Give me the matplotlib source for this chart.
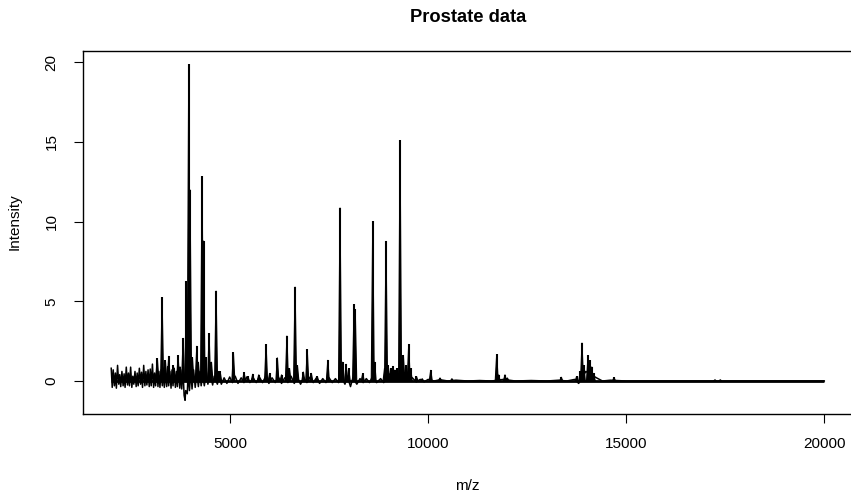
import numpy as np
import matplotlib
matplotlib.use("Agg")
import matplotlib.pyplot as plt

plt.rcParams['font.family'] = ['Liberation Sans', 'DejaVu Sans']

# ---- data ----
peak_mz = [3165, 3284, 3367, 3452, 3560, 3688, 3740, 3815, 3897, 3957,
           3990, 4050, 4160, 4200, 4293, 4330, 4380, 4470, 4530, 4647,
           4700, 4749, 5084, 5353, 5450, 5573, 5725, 5909, 6000, 6194,
           6300, 6435, 6500, 6641, 6700, 6850, 6948, 7050, 7200, 7468,
           7776, 7840, 7928, 7995, 8130, 8160, 8349, 8602, 8650, 8900,
           8937, 8985, 9050, 9106, 9160, 9220, 9291, 9340, 9375, 9440,
           9510, 9560, 9705, 9850, 10066, 10300, 10600, 11731, 11780, 11940,
           12000, 13360, 13750, 13840, 13884, 13930, 14036, 14080, 14130, 14180,
           14692, 17241, 17375]
peak_int = [1.42, 5.25, 1.30, 1.57, 1.0, 1.60, 0.9, 2.7, 6.25, 19.85,
            12.0, 1.5, 2.2, 1.2, 12.85, 8.8, 1.5, 2.99, 1.2, 5.66,
            0.6, 0.6, 1.8, 0.56, 0.3, 0.44, 0.4, 2.3, 0.5, 1.47,
            0.4, 2.84, 0.8, 5.91, 1.0, 0.58, 1.99, 0.5, 0.3, 1.32,
            10.87, 1.2, 1.07, 0.8, 4.8, 4.5, 0.48, 10.03, 1.2, 0.8,
            8.78, 1.0, 0.8, 0.94, 0.7, 0.8, 15.11, 1.5, 1.63, 1.0,
            2.32, 0.8, 0.3, 0.15, 0.69, 0.2, 0.15, 1.69, 0.4, 0.4,
            0.2, 0.25, 0.3, 0.6, 2.4, 1.0, 1.61, 1.3, 0.9, 0.5,
            0.23, 0.08, 0.08]

noise_mz = [2000, 2025, 2050, 2080, 2105, 2130, 2160, 2190, 2215, 2240,
            2270, 2300, 2325, 2350, 2380, 2410, 2435, 2460, 2490, 2520,
            2545, 2570, 2600, 2630, 2655, 2680, 2710, 2740, 2765, 2790,
            2820, 2850, 2875, 2900, 2930, 2960, 2985, 3010, 3040, 3070,
            3095, 3120, 3150, 3180, 3205, 3230, 3260, 3290, 3315, 3340,
            3370, 3400, 3425, 3450, 3480, 3510, 3535, 3560, 3590, 3620,
            3645, 3670, 3700, 3730, 3755, 3780, 3810, 3840, 3864, 3880,
            3920, 3940, 3975, 4010, 4040, 4080, 4120, 4160, 4200, 4240,
            4270, 4310, 4350, 4400, 4440, 4500, 4560, 4600, 4680, 4720,
            4780, 4850, 4920, 4990, 5060, 5130, 5200, 5280, 5350, 5420,
            5500, 5580, 5660, 5740, 5820, 5900, 5980, 6060, 6140, 6220,
            6300, 6380, 6460, 6540, 6620, 6700, 6780, 6860, 6940, 7020,
            7100, 7180, 7260, 7340, 7420, 7500, 7580, 7660, 7740, 7820,
            7900, 7960, 8040, 8100, 8200, 8280, 8360, 8440, 8520, 8580,
            8700, 8800, 8880, 9000, 9100, 9200, 9400, 9600, 9700, 9800,
            9900, 10000, 10150, 10300, 10500, 10700, 11000, 11300, 11600, 11900,
            12200, 12600, 13000, 13300, 13500, 13700, 13800, 13980, 14250, 14400,
            14600, 15000, 20000]
noise_int = [0.8, -0.4, 0.7, -0.3, 0.5, -0.45, 0.98, -0.2, 0.4, -0.35,
             0.6, -0.3, 0.45, -0.4, 0.87, -0.25, 0.5, -0.3, 0.87, -0.4,
             0.3, -0.2, 0.6, -0.35, 0.5, -0.3, 0.8, -0.2, 0.55, -0.4,
             0.98, -0.3, 0.6, -0.25, 0.7, -0.35, 0.75, -0.3, 1.06, -0.4,
             0.5, -0.3, 0.9, -0.35, 0.6, -0.4, 0.7, -0.3, 0.8, -0.4,
             0.5, -0.35, 0.9, -0.3, 0.6, -0.45, 0.7, -0.3, 0.8, -0.4,
             0.6, -0.35, 0.9, -0.45, 0.7, -0.5, 0.8, -0.9, -1.21, -0.6,
             -0.8, 0.5, -0.6, 0.6, -0.5, 0.7, -0.4, 0.5, -0.35, 0.6,
             -0.3, 0.4, -0.3, 0.6, -0.2, 0.5, -0.25, 0.3, -0.2, 0.3,
             -0.2, 0.2, -0.15, 0.25, -0.1, 0.3, -0.15, 0.2, -0.1, 0.25,
             -0.1, 0.2, -0.1, 0.25, -0.1, 0.3, -0.15, 0.2, -0.1, 0.25,
             -0.15, 0.2, -0.1, 0.3, -0.15, 0.2, -0.2, 0.2, -0.1, 0.25,
             -0.1, 0.2, -0.15, 0.15, -0.1, 0.2, -0.1, 0.15, -0.1, 0.2,
             -0.2, 0.3, -0.35, 0.2, -0.2, 0.15, -0.1, 0.15, -0.1, 0.2,
             -0.1, 0.15, -0.1, 0.4, 0.5, 0.4, 0.5, 0.2, -0.05, 0.1,
             -0.05, 0.1, 0.0, 0.08, 0.0, 0.05, 0.0, 0.03, 0.0, 0.1,
             0.0, 0.03, 0.0, 0.05, 0.0, 0.1, -0.15, 0.6, 0.2, 0.0,
             0.05, 0.0, 0.0]

baseline_mz = [2000, 20000]
baseline_int = [0.0, 0.0]

x_ticks = [5000, 10000, 15000, 20000]
y_ticks = [0, 5, 10, 15, 20]

# ---- figure ----
W, H = 851, 494
fig = plt.figure(figsize=(W / 100, H / 100), dpi=100)
left, right, top, bottom = 82.7, 852.8, 51.0, 413.7
ax = fig.add_axes([left / W, 1 - bottom / H, (right - left) / W, (bottom - top) / H])

ax.plot(baseline_mz, baseline_int, color='black', lw=2.0, solid_capstyle='butt')
ax.plot(noise_mz, noise_int, color='black', lw=1.1)
half_w = 38
for m, h in zip(peak_mz, peak_int):
    ax.fill([m - half_w, m, m + half_w], [0, h, 0], color='black', lw=0.8)
ax.vlines(peak_mz, 0, peak_int, color='black', lw=1.5)

ax.set_xlim(1280, 20720)
ax.set_ylim(-2.05, 20.69)
ax.set_xticks(x_ticks)
ax.set_xticklabels([str(t) for t in x_ticks])
ax.set_yticks(y_ticks)
ax.set_yticklabels([str(t) for t in y_ticks], rotation=90, va='center')
ax.tick_params(axis='both', direction='out', length=6.8, width=0.8, labelsize=11, colors='black')
ax.tick_params(axis='x', pad=10.0)
ax.tick_params(axis='y', pad=10.5)
for s in ax.spines.values():
    s.set_linewidth(1.0)
    s.set_color('black')

fig.text(467.7 / W, 1 - 17 / H, 'Prostate data', ha='center', va='center',
         fontsize=13.2, fontweight='bold')
fig.text(467.7 / W, 1 - 490 / H, 'm/z', ha='center', va='baseline', fontsize=11)
fig.text(18.5 / W, 1 - 222 / H, 'Intensity', ha='center', va='baseline', fontsize=11,
         rotation=90, rotation_mode='anchor')

fig.savefig('out.png', dpi=100)
